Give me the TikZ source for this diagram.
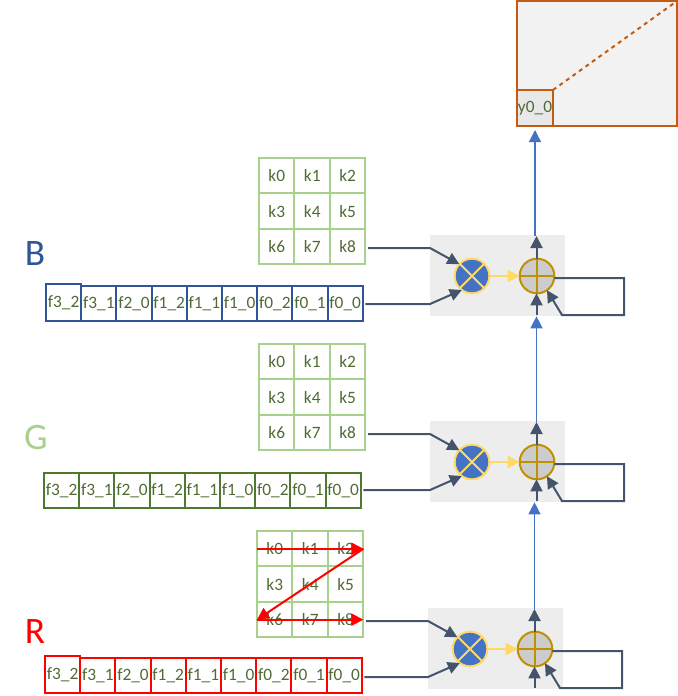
\documentclass[tikz,border=0pt]{standalone}
\usepackage{fontspec}
\setmainfont{Carlito}
\usetikzlibrary{arrows.meta, positioning}
\definecolor{textgreen}{HTML}{4F6B35}
\definecolor{kgreen}{HTML}{A9D18E}
\definecolor{fgreen}{HTML}{4E7A2E}
\definecolor{fblue}{HTML}{2F5597}
\definecolor{linkgray}{HTML}{44546A}
\definecolor{opblue}{HTML}{4472C4}
\definecolor{opyellow}{HTML}{FFD966}
\definecolor{opgold}{HTML}{BF9000}
\definecolor{outorange}{HTML}{C55A11}
\tikzstyle{kcell} = [rectangle, draw=kgreen, line width=1.5pt, minimum width=26.6pt, minimum height=26.6pt, inner sep=0pt, outer sep=0pt, text=textgreen, font=\fontsize{13}{15}\selectfont]
\tikzstyle{fcell} = [rectangle, draw, line width=1.5pt, minimum width=26.4pt, minimum height=26.25pt, inner sep=0pt, outer sep=0pt, text=textgreen, anchor=south west, font=\fontsize{13}{15}\selectfont]
\tikzstyle{fhead} = [fcell, minimum height=27.4pt]
\tikzstyle{graybox} = [rectangle, fill=black!7, minimum width=101pt, minimum height=61pt, inner sep=0pt, outer sep=0pt, anchor=north west]
\tikzstyle{mulop} = [circle, draw=opyellow, fill=opblue, line width=1.5pt, minimum size=26pt, inner sep=0pt, outer sep=0pt, path picture={\draw[opyellow, line width=1.5pt] (path picture bounding box.north west) -- (path picture bounding box.south east) (path picture bounding box.north east) -- (path picture bounding box.south west);}]
\tikzstyle{addop} = [circle, draw=opgold, fill=black!20, line width=1.5pt, minimum size=26pt, inner sep=0pt, outer sep=0pt, path picture={\draw[opgold, line width=1.5pt] (path picture bounding box.north) -- (path picture bounding box.south) (path picture bounding box.east) -- (path picture bounding box.west);}]
\tikzstyle{link} = [draw=linkgray, line width=1.5pt, -{Triangle[length=9pt, width=9pt]}]
\tikzstyle{yellowlink} = [draw=opyellow, line width=1.5pt, -{Triangle[length=9pt, width=9pt]}]
\tikzstyle{bluelink} = [draw=opblue, line width=1pt, -{Triangle[length=9pt, width=9pt]}]
\tikzstyle{scanlink} = [draw=red, line width=1.5pt, -{Triangle[length=9pt, width=9pt]}]
\tikzstyle{channel} = [font=\fontsize{28}{30}\selectfont, inner sep=0pt]
% 3x3 kernel, corner at (x,y)
\newcommand{\kgrid}[3]{
  \node[kcell, anchor=north west](#1k0) at (#2,#3){k0};
  \node[kcell, right=0pt of #1k0](#1k1){k1};
  \node[kcell, right=0pt of #1k1](#1k2){k2};
  \node[kcell, below=0pt of #1k0](#1k3){k3};
  \node[kcell, right=0pt of #1k3](#1k4){k4};
  \node[kcell, right=0pt of #1k4](#1k5){k5};
  \node[kcell, below=0pt of #1k3](#1k6){k6};
  \node[kcell, right=0pt of #1k6](#1k7){k7};
  \node[kcell, right=0pt of #1k7](#1k8){k8};
}
% row of feature cells, lower left corner at (x,y), style of its first cell
\newcommand{\frow}[5]{
  \node[#5, draw=#2](#1f32) at (#3,#4){f3\_2};
  \node[fcell, draw=#2](#1f31) at (#1f32.south east){f3\_1};
  \node[fcell, draw=#2](#1f20) at (#1f31.south east){f2\_0};
  \node[fcell, draw=#2](#1f12) at (#1f20.south east){f1\_2};
  \node[fcell, draw=#2](#1f11) at (#1f12.south east){f1\_1};
  \node[fcell, draw=#2](#1f10) at (#1f11.south east){f1\_0};
  \node[fcell, draw=#2](#1f02) at (#1f10.south east){f0\_2};
  \node[fcell, draw=#2](#1f01) at (#1f02.south east){f0\_1};
  \node[fcell, draw=#2](#1f00) at (#1f01.south east){f0\_0};
}
% multiply and add unit with its connectors
\newcommand{\macblock}[3]{
  \node[graybox](#1box) at (#2,#3){};
  \node[mulop](#1mul) at (#2+42,#3+41){};
  \node[addop](#1add) at (#2+107,#3+41){};
  \coordinate(#1in1) at (#2,#3+13);
  \coordinate(#1in2) at (#2,#3+69);
  \coordinate(#1top) at (#2+106.5,#3+1);
  \coordinate(#1bot) at (#2+106.5,#3+80);
  \coordinate(#1fb1) at (#2+194,#3+43);
  \coordinate(#1fb2) at (#2+194,#3+80);
  \coordinate(#1fb3) at (#2+132,#3+80);
  \draw[link, shorten <=2pt] (#1k8.east |- #1in1) -- (#1in1) -- (#1mul.137);
  \draw[link, shorten <=2pt] (#1f00.east |- #1in2) -- (#1in2) -- (#1mul.234);
  \draw[yellowlink] (#1mul.east) -- (#1add.west);
  \draw[link] (#1add.north -| #1top) -- (#1top);
  \draw[link] (#1bot) -- (#1add.south -| #1bot);
  \draw[link] (#1add.east |- #1fb1) -- (#1fb1) -- (#1fb2) -- (#1fb3) -- (#1add.305);
}

\begin{document}
\begin{tikzpicture}[x=0.75pt, y=-0.75pt]
  \useasboundingbox (0,0) rectangle (678,696);
  % output image
  \node[rectangle, draw=outorange, fill=black!5, line width=1.5pt, minimum width=120pt, minimum height=93.75pt, inner sep=0pt, outer sep=0pt, anchor=north west](output) at (517,1){};
  \node[rectangle, draw=outorange, fill=black!9, line width=1.5pt, minimum size=27pt, inner sep=0pt, outer sep=0pt, text=textgreen, anchor=south west, font=\fontsize{13}{15}\selectfont](y00) at (output.south west){y0\_0};
  \draw[draw=outorange, line width=1.5pt, dashed] (y00.north east) -- (output.north east);

  % B channel
  \node[channel, text=fblue](labelb) at (35,254){B};
  \kgrid{b}{259}{158}
  \frow{b}{fblue}{46}{321}{fhead}
  \macblock{b}{430}{235}

  % G channel
  \node[channel, text=kgreen](labelg) at (36,438){G};
  \kgrid{g}{259}{344}
  \frow{g}{fgreen}{44}{508}{fcell}
  \macblock{g}{430}{421}

  % R channel
  \node[channel, text=red](labelr) at (35,632){R};
  \kgrid{r}{257}{531}
  \frow{r}{red}{45}{693}{fhead}
  \macblock{r}{428}{608}

  % between the channels
  \draw[bluelink] (rtop) -- (gbox.south -| rtop);
  \draw[bluelink] (gtop) -- (bbox.south -| gtop);
  \draw[bluelink, shorten >=3pt] (y00 |- btop) -- (y00.south);

  % scan order over the kernel
  \draw[scanlink] (rk0.west) -- (rk2.east);
  \draw[scanlink] (rk2.east) -- (rk6.west);
  \draw[scanlink] (rk6.west) -- (rk8.east);
\end{tikzpicture}
\end{document}
